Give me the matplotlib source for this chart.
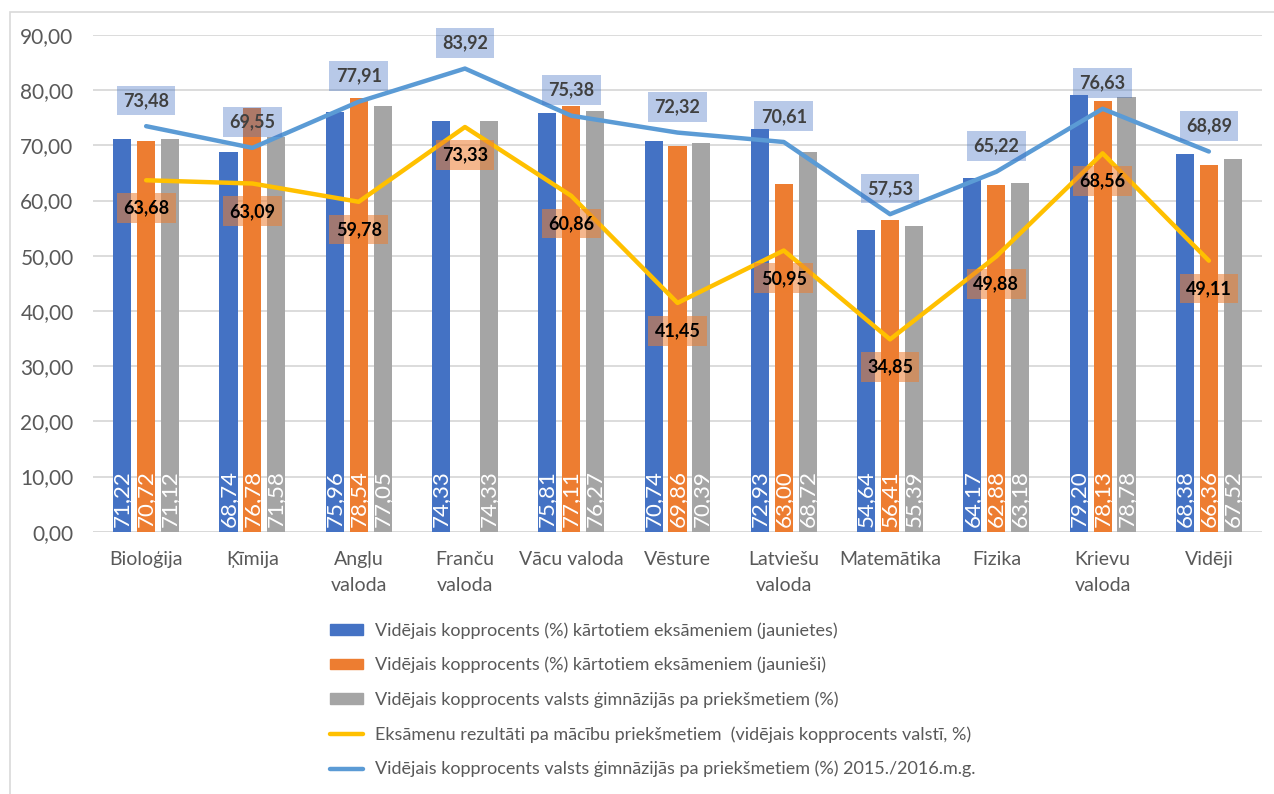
import matplotlib
matplotlib.use("Agg")
import matplotlib.pyplot as plt
import numpy as np
from matplotlib.lines import Line2D
from matplotlib.patches import Patch, Rectangle

plt.rcParams["font.family"] = ["Lato", "DejaVu Sans"]

CATS = ["Bioloģija", "Ķīmija", "Angļu\nvaloda", "Franču\nvaloda", "Vācu valoda",
        "Vēsture", "Latviešu\nvaloda", "Matemātika", "Fizika", "Krievu\nvaloda", "Vidēji"]
GIRLS = [71.22, 68.74, 75.96, 74.33, 75.81, 70.74, 72.93, 54.64, 64.17, 79.20, 68.38]
BOYS = [70.72, 76.78, 78.54, np.nan, 77.11, 69.86, 63.00, 56.41, 62.88, 78.13, 66.36]
GYMN = [71.12, 71.58, 77.05, 74.33, 76.27, 70.39, 68.72, 55.39, 63.18, 78.78, 67.52]
NATIONAL = [63.68, 63.09, 59.78, 73.33, 60.86, 41.45, 50.95, 34.85, 49.88, 68.56, 49.11]
PREV = [73.48, 69.55, 77.91, 83.92, 75.38, 72.32, 70.61, 57.53, 65.22, 76.63, 68.89]
YTICKS = [0, 10, 20, 30, 40, 50, 60, 70, 80, 90]

LEGEND = [
    "Vidējais kopprocents (%) kārtotiem eksāmeniem (jaunietes)",
    "Vidējais kopprocents (%) kārtotiem eksāmeniem (jaunieši)",
    "Vidējais kopprocents valsts ģimnāzijās pa priekšmetiem (%)",
    "Eksāmenu rezultāti pa mācību priekšmetiem  (vidējais kopprocents valstī, %)",
    "Vidējais kopprocents valsts ģimnāzijās pa priekšmetiem (%) 2015./2016.m.g.",
]
C_BLUE, C_ORANGE, C_GRAY = "#4472C4", "#ED7D31", "#A5A5A5"
C_YELLOW, C_LBLUE = "#FFC000", "#5B9BD5"
GRID = "#D9D9D9"
TXT = "#595959"


def fmt(v):
    return f"{v:.2f}".replace(".", ",")


fig = plt.figure(figsize=(12.74, 7.94), dpi=100)
# outer chart frame
fig.patches.append(Rectangle((10 / 1274, -0.1), 1.2, 1 - 12 / 794 + 0.1,
                             transform=fig.transFigure, fill=False,
                             ec=GRID, lw=1.2))
ax = fig.add_axes([93 / 1274, 1 - 531.7 / 794, 1169 / 1274, (531.7 - 35) / 794])

x = np.arange(len(CATS))
w, step = 0.17, 0.225
for vals, col, dx in [(GIRLS, C_BLUE, -step), (BOYS, C_ORANGE, 0), (GYMN, C_GRAY, step)]:
    ax.bar(x + dx, vals, width=w, color=col, zorder=2)
    for xi, v in zip(x + dx, vals):
        if np.isnan(v):
            continue
        ax.text(xi, 0.8, fmt(v), rotation=90, ha="center", va="bottom",
                color="white", fontsize=16, zorder=3)

ax.plot(x, NATIONAL, color=C_YELLOW, lw=3.2, zorder=4, solid_capstyle="round")
ax.plot(x, PREV, color=C_LBLUE, lw=3.2, zorder=5, solid_capstyle="round")

for xi, v in zip(x, NATIONAL):
    ax.annotate(fmt(v), (xi, v), xytext=(0, -20), textcoords="offset points",
                ha="center", va="center", fontsize=13, fontweight="bold",
                color="black", zorder=6,
                bbox=dict(boxstyle="square,pad=0.35", fc=(0.93, 0.49, 0.19, 0.55),
                          ec="none"))
for xi, v in zip(x, PREV):
    ax.annotate(fmt(v), (xi, v), xytext=(0, 18.5), textcoords="offset points",
                ha="center", va="center", fontsize=13, fontweight="bold",
                color="#404040", zorder=6,
                bbox=dict(boxstyle="square,pad=0.35", fc=(0.27, 0.45, 0.77, 0.38),
                          ec="none"))

ax.set_xlim(-0.5, len(CATS) - 0.5)
ax.set_ylim(0, 90)
ax.set_yticks(YTICKS)
ax.set_yticklabels([fmt(v) for v in YTICKS], fontsize=15, color=TXT)
ax.set_xticks(x)
ax.set_xticklabels(CATS, fontsize=14, color=TXT, linespacing=1.6, va="top")
ax.tick_params(length=0, axis="y", pad=14)
ax.tick_params(length=0, axis="x", pad=14)
ax.grid(axis="y", color=GRID, lw=1.3, zorder=0)
ax.set_axisbelow(True)
for s in ax.spines.values():
    s.set_visible(False)
ax.axhline(0, color=GRID, lw=1.3, zorder=1)

handles = [Patch(color=C_BLUE), Patch(color=C_ORANGE), Patch(color=C_GRAY),
           Line2D([], [], color=C_YELLOW, lw=3.2, solid_capstyle="round"),
           Line2D([], [], color=C_LBLUE, lw=3.2, solid_capstyle="round")]
leg = fig.legend(handles, LEGEND, loc="upper left",
                 bbox_to_anchor=(314 / 1274, 1 - 606 / 794), frameon=False,
                 fontsize=13, labelcolor=TXT, handlelength=1.8,
                 handleheight=0.5, handletextpad=0.7, labelspacing=1.0)

fig.savefig("out.png", dpi=100)
